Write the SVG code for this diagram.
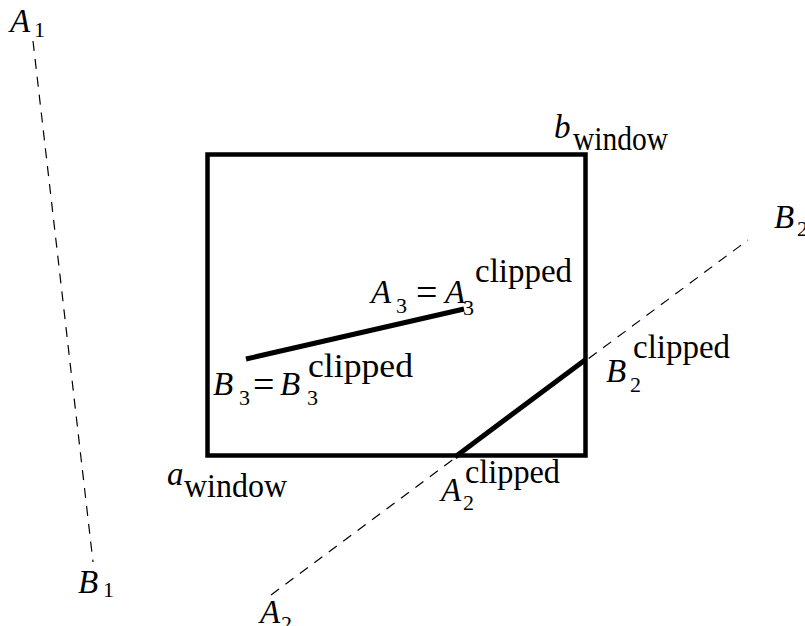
<svg xmlns="http://www.w3.org/2000/svg" width="805" height="626" viewBox="0 0 805 626">
<style>
.m{font-family:"Liberation Serif",serif;font-style:italic;font-size:33px;fill:#000}
.r{font-family:"Liberation Serif",serif;font-size:33px;fill:#000}
.e{font-family:"Liberation Serif",serif;font-size:38px;fill:#000}
.s{font-family:"Liberation Serif",serif;font-size:22px;fill:#000}
.d{stroke:#000;stroke-width:1.2;stroke-dasharray:10 8;fill:none}
.t{stroke:#000;stroke-width:5;fill:none;stroke-linecap:butt}
</style>
<rect width="805" height="626" fill="#fff"/>
<g id="window">
<rect x="207.5" y="154.5" width="378" height="301" fill="none" stroke="#000" stroke-width="4.5"/>
</g>
<g id="connectors">
<line class="d" x1="33" y1="41" x2="93" y2="562"/>
<line class="d" x1="271" y1="595" x2="748" y2="240"/>
<line class="t" x1="455" y1="457" x2="585" y2="360"/>
<line class="t" x1="246" y1="359" x2="464" y2="309"/>
</g>
<g id="label-A1"><text class="m" x="10" y="32">A</text><text class="s" x="34" y="37">1</text></g>
<g id="label-bwindow"><text class="m" x="554" y="138">b</text><text class="r" x="573" y="150" textLength="95" lengthAdjust="spacingAndGlyphs">window</text></g>
<g id="label-B2"><text class="m" x="774" y="228">B</text><text class="s" x="797" y="236">2</text></g>
<g id="label-A3"><text class="m" x="371" y="303">A</text><text class="s" x="396" y="313">3</text><text class="e" x="416" y="305">=</text><text class="m" x="445" y="303">A</text><text class="s" x="463" y="315">3</text><text class="r" x="475" y="282" textLength="97" lengthAdjust="spacingAndGlyphs">clipped</text></g>
<g id="label-B3"><text class="m" x="213" y="395">B</text><text class="s" x="239" y="405">3</text><text class="e" x="253" y="397">=</text><text class="m" x="280" y="395">B</text><text class="s" x="307" y="405">3</text><text class="r" x="308" y="377" textLength="105" lengthAdjust="spacingAndGlyphs">clipped</text></g>
<g id="label-B2clipped"><text class="m" x="606" y="382">B</text><text class="s" x="630" y="392">2</text><text class="r" x="633" y="358" textLength="97" lengthAdjust="spacingAndGlyphs">clipped</text></g>
<g id="label-awindow"><text class="m" x="167" y="485">a</text><text class="r" x="184" y="497" textLength="103" lengthAdjust="spacingAndGlyphs">window</text></g>
<g id="label-A2clipped"><text class="m" x="441" y="501">A</text><text class="s" x="463" y="510">2</text><text class="r" x="465" y="483" textLength="95" lengthAdjust="spacingAndGlyphs">clipped</text></g>
<g id="label-B1"><text class="m" x="78" y="593">B</text><text class="s" x="103" y="597">1</text></g>
<g id="label-A2"><text class="m" x="260" y="623">A</text><text class="s" x="281" y="631">2</text></g>
</svg>
